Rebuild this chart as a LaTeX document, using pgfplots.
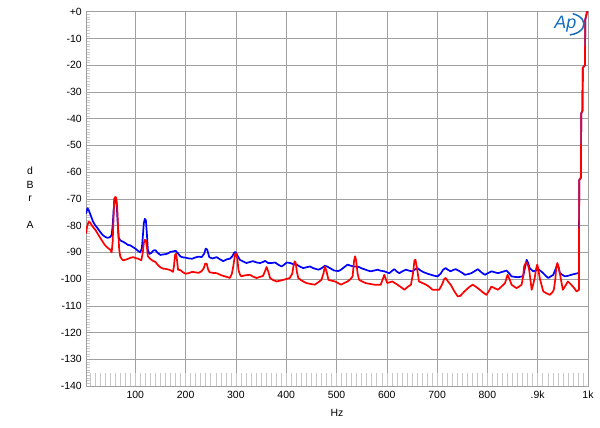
\documentclass[border=0pt]{standalone}
\usepackage{pgfplots}
\pgfplotsset{compat=1.18}
\usepackage{fontspec}
\setmainfont{Liberation Sans}
\definecolor{apblue}{RGB}{20,110,190}
\definecolor{gridgray}{RGB}{160,160,160}
\definecolor{tickgray}{RGB}{200,200,200}

\begin{document}
\begin{tikzpicture}[font=\fontsize{10.5}{12}\selectfont]

% left minor ticks (short)
\begin{axis}[
  at={(86bp,42bp)}, anchor=south west,
  scale only axis, width=502bp, height=374.3bp,
  xmin=2, xmax=1000, ymin=-140, ymax=0,
  xtick=\empty, ytick={-140,-130,...,0}, yticklabels={},
  minor ytick={-139,-138,...,-1},
  major tick length=0pt, minor tick length=4bp,
  tick align=inside, ytick pos=left,
  minor tick style={tickgray, line width=0.5bp},
  axis line style={draw=none},
]
\end{axis}

\begin{axis}[
  at={(86bp,42bp)}, anchor=south west,
  scale only axis, width=502bp, height=374.3bp,
  xmin=2, xmax=1000, ymin=-140, ymax=0,
  xtick={100,200,...,1000},
  xticklabels={100,200,300,400,500,600,700,800,.9k,1k},
  minor xtick={10,20,...,990},
  ytick={-140,-130,...,0},
  yticklabels={-140,-130,-120,-110,-100,-90,-80,-70,-60,-50,-40,-30,-20,-10,+0},
  major tick length=0pt, minor tick length=13bp,
  tick align=inside, xtick pos=bottom, ytick pos=left,
  minor tick style={tickgray, line width=0.5bp},
  grid=major,
  major grid style={gridgray, line width=0.5bp},
  axis line style={gridgray, line width=0.6bp},
  xticklabel style={anchor=north, inner sep=0pt, yshift=-5bp},
  yticklabel style={anchor=east, inner sep=0pt, xshift=-4bp},
  xlabel={Hz},
  xlabel style={at={(axis description cs:0.5,0)}, anchor=center, yshift=-27bp},
  every axis plot/.append style={line width=1.7bp, line join=round},
]
\addplot[blue, mark=none] coordinates {
(2,-75.5)(5,-73.5)(8,-74.5)(12,-76.5)(16,-78.5)(20,-79.8)(25,-81)(30,-82.3)(35,-83.5)(40,-84.2)(45,-84.6)(50,-84.3)(53,-83.5)(55,-80)(57,-74)(59,-70)(61,-69.8)(63,-72)(65,-79)(67,-84.5)(70,-85.5)(75,-86)(80,-86.5)(85,-87.2)(90,-87.4)(95,-88)(100,-88.6)(105,-89.4)(110,-90)(113,-88.5)(115,-84)(117,-79)(119,-77.5)(121,-78)(123,-83)(125,-89)(128,-90.6)(132,-90.2)(136,-89.3)(140,-89.2)(145,-90.3)(150,-91)(155,-90.8)(160,-90.7)(165,-90.4)(170,-89.8)(175,-89.7)(180,-89.4)(184,-90.2)(190,-91.6)(195,-91.9)(200,-92)(207,-92.3)(213,-92.4)(220,-91.9)(226,-91.6)(232,-91.8)(237,-90.5)(240,-88.6)(243,-89)(247,-91.8)(253,-92.3)(262,-91.8)(268,-92.6)(275,-93.3)(282,-92.6)(288,-92.4)(293,-91.5)(297,-90)(300,-90)(303,-91.2)(308,-92.8)(314,-93.4)(321,-94)(328,-93.6)(334,-93.3)(341,-93.8)(348,-94)(354,-93.6)(358,-93.2)(364,-94)(371,-94)(378,-93.8)(384,-94.6)(391,-95.3)(396,-94.6)(401,-93.8)(408,-94)(415,-94.5)(421,-94.6)(428,-95.4)(434,-95.9)(440,-95.6)(447,-95.3)(455,-96)(464,-96.5)(470,-96)(477,-95)(482,-95.4)(487,-95.9)(495,-96.8)(504,-97)(509,-96.5)(515,-95.6)(522,-94.6)(528,-95)(535,-95.3)(540,-95.3)(545,-95.5)(550,-96)(555,-96.3)(562,-96.8)(568,-97.1)(575,-96.8)(582,-96.5)(588,-96.9)(595,-97.1)(600,-97.5)(605,-97.8)(610,-97)(615,-96.3)(620,-97.2)(625,-97.8)(632,-97)(638,-96.5)(645,-96.9)(651,-97.1)(656,-96.4)(661,-95.9)(667,-96.8)(674,-97.5)(681,-98)(688,-98.4)(695,-98.8)(701,-99)(707,-98)(712,-96.5)(717,-95.9)(722,-96.6)(727,-97.1)(732,-96.6)(737,-96.3)(744,-97)(751,-97.8)(755,-98.4)(761,-98.2)(768,-97.8)(775,-97)(781,-96.3)(788,-97.5)(795,-98.4)(801,-97.8)(808,-97.1)(815,-97.5)(821,-97.8)(830,-97.3)(838,-96.8)(843,-97.8)(848,-99)(855,-99.2)(861,-99.3)(867,-99.1)(871,-99)(875,-95.5)(878,-92.8)(881,-94)(884,-95.9)(891,-97.1)(896,-96.8)(901,-96.3)(906,-97)(911,-97.8)(916,-98.8)(921,-99.6)(926,-99)(931,-98.4)(936,-96)(939,-94.6)(942,-96)(944,-97.8)(949,-98.4)(954,-99)(960,-98.8)(967,-98.4)(973,-98.1)(980,-97.8)(982,-97.6)(982.5,-63)(986,-62)(986.5,-38)(989,-37)(989.5,-21)(994,-20)(994.5,-3)(997,-1)(998,0)(1000,0)
};
\addplot[red, mark=none] coordinates {
(2,-83)(4,-80.5)(7,-78.6)(10,-78.8)(14,-80)(18,-81)(22,-82)(26,-83.3)(30,-84.5)(35,-86)(40,-87.4)(45,-88.3)(50,-89)(53,-90)(55,-86)(57,-76)(58,-70)(60,-69.3)(62,-69.5)(64,-73)(66,-82)(68,-89)(70,-91.5)(73,-92.5)(76,-93)(80,-92.8)(86,-92.4)(91,-92)(96,-91.8)(101,-92.2)(106,-92.4)(112,-93)(115,-90)(117,-86.5)(119,-85.3)(121,-85.5)(123,-88)(125,-91.5)(130,-92.5)(135,-93.2)(140,-93.6)(145,-94.8)(150,-95.6)(155,-96.1)(160,-96.2)(165,-96.4)(170,-96.7)(175,-97.3)(177,-95)(179,-91)(181,-90.5)(183,-93)(185,-96.5)(190,-96.7)(195,-97.5)(200,-98)(206,-97.8)(213,-97.3)(220,-97.5)(226,-97.7)(232,-97)(236,-96)(239,-94.2)(242,-94.3)(245,-96.5)(248,-97.5)(255,-97.7)(262,-97.8)(270,-98.5)(278,-99)(284,-99.3)(288,-99.6)(292,-98)(295,-95)(298,-91)(300,-90.3)(303,-92.5)(305,-96.5)(308,-98.3)(311,-99)(318,-98.6)(328,-98.4)(334,-99.1)(341,-99.6)(348,-99.2)(354,-98.8)(358,-97)(361,-95.5)(364,-97)(368,-99.6)(374,-100.4)(381,-100.9)(388,-100.6)(394,-100.3)(400,-100)(407,-99.6)(412,-98)(415,-94.5)(417,-93.4)(419,-94)(421,-97)(424,-99.6)(430,-100.5)(435,-101)(440,-101.5)(448,-101.8)(457,-102.1)(463,-101.3)(470,-100.3)(474,-98)(477,-95.3)(480,-97)(484,-100.3)(490,-100.6)(497,-100.9)(503,-101.5)(509,-102.1)(515,-101.5)(522,-100.9)(528,-100)(532,-99)(535,-93)(537,-91.5)(539,-93)(542,-98)(545,-100.3)(552,-101)(558,-101.5)(566,-101.8)(575,-102.1)(582,-102.1)(588,-102.1)(592,-100)(595,-98.4)(598,-100)(601,-101.5)(606,-101.2)(611,-100.9)(616,-101.5)(621,-102.1)(628,-103)(635,-104)(641,-103)(648,-102.1)(652,-98)(655,-93)(657,-92.8)(660,-96)(664,-100.9)(671,-101.5)(678,-102.1)(685,-103)(691,-104)(698,-104)(704,-104)(710,-102)(714,-100)(717,-99.6)(722,-101)(727,-102.1)(734,-104.5)(741,-106.5)(746,-106.3)(751,-105.3)(755,-104.5)(758,-104)(765,-102.8)(771,-102.1)(778,-103)(785,-104)(791,-105)(798,-105.9)(803,-104.5)(808,-102.8)(815,-103.5)(821,-104)(828,-102.8)(835,-101.5)(840,-98.4)(844,-100)(848,-102.1)(853,-102.8)(858,-103.4)(863,-102.8)(868,-102.1)(871,-99)(873,-95.3)(876,-94)(878,-93.8)(881,-95)(883,-96.5)(886,-101)(888,-104)(891,-102)(894,-99.6)(897,-96)(899,-94.6)(901,-96)(904,-99.6)(908,-102.5)(911,-104.6)(917,-105.3)(924,-105.9)(929,-105)(932,-104)(935,-100)(937,-95.5)(939,-94)(941,-95)(944,-97.8)(947,-101)(950,-104)(955,-102.5)(960,-100.9)(965,-101.8)(970,-102.8)(975,-104)(977,-104.6)(980,-104.3)(982,-104)(982.5,-63)(986,-62)(986.5,-38)(989,-37)(989.5,-21)(994,-20)(994.5,-3)(997,-1)(998,0)(1000,0)
};
% Ap logo
\node[text=apblue, font=\fontsize{18}{18}\selectfont\itshape] at (rel axis cs:0.955,0.967) {Ap};
\draw[apblue, line width=1.5bp] (rel axis cs:0.958,0.967) ++(70:17bp and 11bp) arc[start angle=70, end angle=-80, x radius=17bp, y radius=11bp];
\end{axis}

\node[align=center, inner sep=0pt, font=\fontsize{10.5}{13.5}\selectfont] at (30bp,230bp) {d\\B\\r\\[13.5bp]A};
\pgfresetboundingbox
\path[use as bounding box] (0bp,0bp) rectangle (600bp,428bp);
\end{tikzpicture}
\end{document}
